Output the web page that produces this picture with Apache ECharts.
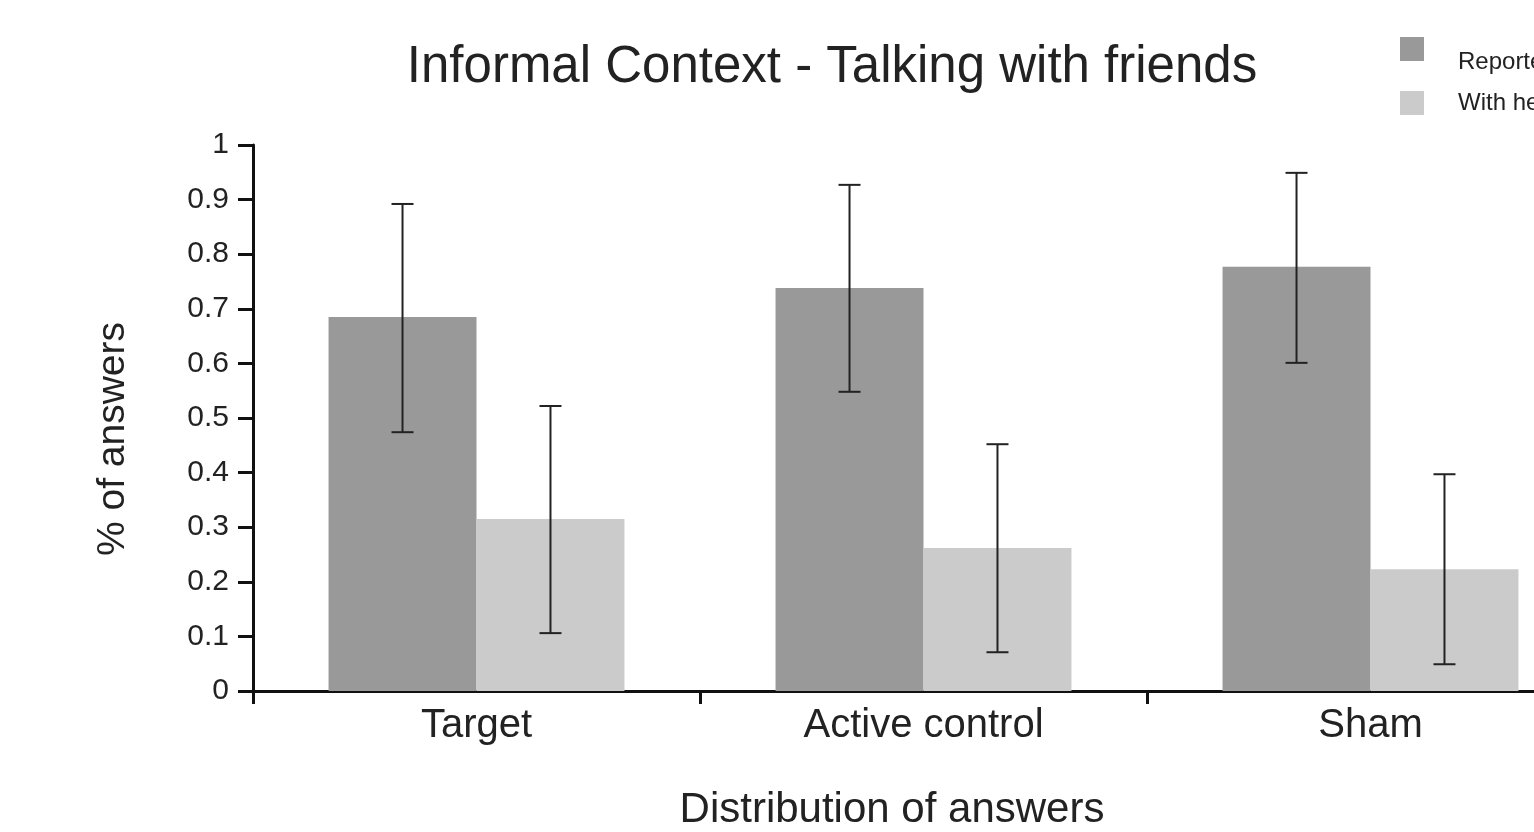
<!DOCTYPE html>
<html>
<head>
<meta charset="utf-8">
<script src="https://cdn.jsdelivr.net/npm/echarts@6/dist/echarts.min.js"></script>
<style>html,body{margin:0;padding:0;background:#fff;}#c{width:1534px;height:832px;}</style>
</head>
<body>
<div id="c"></div>
<script>
const categories = ['Target', 'Active control', 'Sham'];
const seriesNames = ['Reported', 'With help'];
const reportedValues = [0.685, 0.738, 0.777];
const reportedLow = [0.474, 0.548, 0.601];
const reportedHigh = [0.892, 0.927, 0.949];
const helpValues = [0.315, 0.262, 0.223];
const helpLow = [0.106, 0.071, 0.049];
const helpHigh = [0.522, 0.452, 0.397];
const yTicks = [0, 0.1, 0.2, 0.3, 0.4, 0.5, 0.6, 0.7, 0.8, 0.9, 1];

const CAT_GAP = 0.338;
const FONT = '"Liberation Sans", Arial, sans-serif';

function errorSeries(low, high, which) {
  return {
    type: 'custom',
    z: 10,
    silent: true,
    data: categories.map((c, i) => [i, low[i], high[i]]),
    renderItem: function (params, api) {
      const idx = api.value(0);
      const lo = api.coord([idx, api.value(1)]);
      const hi = api.coord([idx, api.value(2)]);
      const band = api.size([1, 0])[0];
      const bw = band * (1 - CAT_GAP) / 2;
      const x = lo[0] + (which === 0 ? -bw / 2 : bw / 2);
      const cap = 11;
      const style = { stroke: '#222', lineWidth: 2 };
      return {
        type: 'group',
        children: [
          { type: 'line', shape: { x1: x, y1: lo[1], x2: x, y2: hi[1] }, style: style },
          { type: 'line', shape: { x1: x - cap, y1: lo[1], x2: x + cap, y2: lo[1] }, style: style },
          { type: 'line', shape: { x1: x - cap, y1: hi[1], x2: x + cap, y2: hi[1] }, style: style }
        ]
      };
    }
  };
}

const legendBase = {
  orient: 'vertical', left: 1400, itemWidth: 24, itemHeight: 24,
  icon: 'rect'
};

const chart = echarts.init(document.getElementById('c'));
chart.setOption({
  backgroundColor: '#fff',
  animation: false,
  title: [
    { text: 'Informal Context - Talking with friends', left: 827, top: 37, textAlign: 'center',
      textStyle: { fontFamily: FONT, fontSize: 51, fontWeight: 'normal', color: '#222' } },
    { text: 'Distribution of answers', left: 887, top: 784, textAlign: 'center',
      textStyle: { fontFamily: FONT, fontSize: 42, fontWeight: 'normal', color: '#222' } }
  ],
  legend: [
    Object.assign({}, legendBase, { top: 23, padding: 0, data: [seriesNames[0]],
      formatter: name => '\n' + name,
      textStyle: { fontFamily: FONT, fontSize: 24, lineHeight: 26, color: '#222', padding: [0, 0, 0, 29] } }),
    Object.assign({}, legendBase, { top: 91, padding: 0, data: [seriesNames[1]],
      textStyle: { fontFamily: FONT, fontSize: 24, color: '#222', padding: [0, 0, 0, 29] } })
  ],
  grid: { left: 253, top: 145, height: 546, width: 1341, containLabel: false, outerBoundsMode: 'none' },
  xAxis: {
    type: 'category', data: categories,
    axisLine: { lineStyle: { color: '#111', width: 3 } },
    axisTick: { show: true, length: 13, lineStyle: { color: '#111', width: 3 } },
    axisLabel: { fontFamily: FONT, fontSize: 40, color: '#222', margin: 15 },
    splitLine: { show: false }
  },
  yAxis: {
    type: 'value', min: 0, max: 1, interval: 0.1,
    name: '% of answers', nameLocation: 'middle', nameGap: 120, nameRotate: 90,
    nameTextStyle: { fontFamily: FONT, fontSize: 39, color: '#222', padding: [0, 42, 0, 0] },
    axisLine: { show: true, lineStyle: { color: '#111', width: 3 } },
    axisTick: { show: true, length: 15, lineStyle: { color: '#111', width: 3 } },
    axisLabel: { fontFamily: FONT, fontSize: 30, color: '#222', margin: 24,
      formatter: v => String(yTicks.find(t => Math.abs(t - v) < 1e-9) ?? v) },
    splitLine: { show: false }
  },
  series: [
    { name: seriesNames[0], type: 'bar', data: reportedValues, barGap: '0%', barCategoryGap: (CAT_GAP * 100) + '%',
      itemStyle: { color: '#999999' } },
    { name: seriesNames[1], type: 'bar', data: helpValues, barGap: '0%', barCategoryGap: (CAT_GAP * 100) + '%',
      itemStyle: { color: '#cbcbcb' } },
    errorSeries(reportedLow, reportedHigh, 0),
    errorSeries(helpLow, helpHigh, 1)
  ]
});
</script>
</body>
</html>
